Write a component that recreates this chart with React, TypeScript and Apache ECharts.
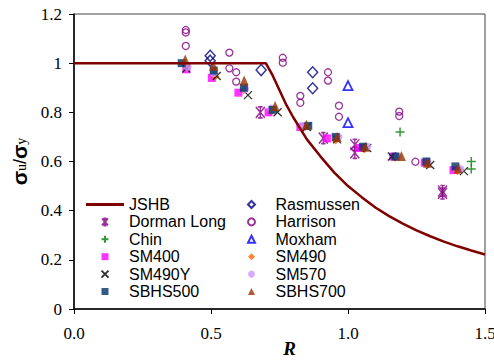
import React, { useEffect, useRef } from "react";
import * as echarts from "echarts";

// ---- data ----
const xTicks = [0, 0.5, 1.0, 1.5];
const yTicks = [0, 0.2, 0.4, 0.6, 0.8, 1, 1.2];

const jshbR = [0, 0.7, 0.725, 0.75, 0.775, 0.8, 0.85, 0.9, 0.95, 1.0, 1.05, 1.1, 1.15, 1.2, 1.25, 1.3, 1.35, 1.4, 1.45, 1.5];
const jshbS = [1, 1, 0.95, 0.89, 0.83, 0.78, 0.69, 0.62, 0.555, 0.5, 0.455, 0.413, 0.378, 0.347, 0.32, 0.296, 0.274, 0.255, 0.238, 0.222];

const dormanR = [0.68, 0.91, 1.025, 1.025, 1.345, 1.345];
const dormanS = [0.8, 0.695, 0.668, 0.635, 0.48, 0.47];

const chinR = [1.19, 1.45, 1.45];
const chinS = [0.72, 0.6, 0.57];

const sm400R = [0.41, 0.503, 0.6, 0.71, 0.826, 0.923, 1.04, 1.165, 1.28, 1.385];
const sm400S = [0.975, 0.94, 0.88, 0.8, 0.74, 0.694, 0.655, 0.62, 0.595, 0.565];

const sm490yR = [0.41, 0.521, 0.635, 0.743, 0.85, 0.96, 1.07, 1.16, 1.3, 1.423];
const sm490yS = [0.978, 0.948, 0.87, 0.8, 0.74, 0.69, 0.655, 0.62, 0.586, 0.561];

const sbhs500R = [0.393, 0.51, 0.62, 0.725, 0.855, 0.955, 1.055, 1.173, 1.286, 1.392];
const sbhs500S = [1.0, 0.97, 0.9, 0.81, 0.745, 0.7, 0.66, 0.62, 0.6, 0.58];

const rasR = [0.497, 0.497, 0.683, 0.871, 0.871];
const rasS = [1.03, 1.01, 0.972, 0.963, 0.898];

const harR = [0.408, 0.408, 0.408, 0.567, 0.567, 0.592, 0.592, 0.762, 0.762, 0.826, 0.826, 0.927, 0.927, 0.967, 0.967, 1.187, 1.187, 1.246];
const harS = [1.135, 1.125, 1.07, 1.043, 0.979, 0.963, 0.925, 1.022, 1.002, 0.867, 0.839, 0.963, 0.929, 0.827, 0.782, 0.803, 0.785, 0.599];

const moxR = [1.0, 1.0];
const moxS = [0.909, 0.758];

const sm490R = [0.41, 0.515, 0.62, 0.72, 0.845, 0.955, 1.06, 1.17, 1.29, 1.4];
const sm490S = [0.985, 0.945, 0.89, 0.805, 0.74, 0.685, 0.65, 0.615, 0.59, 0.56];

const sm570R = [0.415, 0.51, 0.625, 0.72, 0.83, 0.965, 1.07, 1.18, 1.29, 1.41];
const sm570S = [0.985, 0.96, 0.895, 0.815, 0.745, 0.7, 0.66, 0.62, 0.6, 0.57];

const sbhs700R = [0.406, 0.509, 0.621, 0.734, 0.848, 0.96, 1.063, 1.195, 1.29, 1.402];
const sbhs700S = [1.015, 0.99, 0.93, 0.826, 0.75, 0.7, 0.66, 0.622, 0.595, 0.572];

const legendCol1 = ["JSHB", "Dorman Long", "Chin", "SM400", "SM490Y", "SBHS500"];
const legendCol2 = ["Rasmussen", "Harrison", "Moxham", "SM490", "SM570", "SBHS700"];

const zip = (a: number[], b: number[]) => a.map((v, i) => [v, b[i]]);

const ASTERISK = "path://M0,0L10,12M0,12L10,0M5,0L5,12M2.5,0L7.5,0M2.5,12L7.5,12";
const PLUS = "path://M5,0L5,10M0,5L10,5";
const CROSS = "path://M0,0L10,10M0,10L10,0";
const SQUARE = "path://M0,0L10,0L10,10L0,10Z";
const DIAMOND = "path://M5,0L10,5L5,10L0,5Z";
const TRIANGLE = "path://M5,0L10,10L0,10Z";
const LINEICON = "path://M0,0L40,0L40,3L0,3Z";

const SERIF = "'Liberation Serif', 'Times New Roman', 'DejaVu Serif', serif";
const SANS = "'Liberation Sans', Arial, sans-serif";

function scatter(name: string, R: number[], S: number[], symbol: string, size: number | number[], itemStyle: any) {
  return {
    name,
    type: "scatter",
    data: zip(R, S),
    symbol,
    symbolSize: size,
    symbolKeepAspect: false,
    itemStyle,
    emphasis: { disabled: true },
  };
}

function legendData(names: string[]) {
  return names.map((n) => (n === "JSHB" ? { name: n, icon: LINEICON } : { name: n }));
}

function legendCfg(names: string[], left: number) {
  return {
    data: legendData(names),
    orient: "vertical",
    left,
    top: 196,
    padding: 0,
    itemWidth: 38,
    itemHeight: 7,
    itemGap: 0.4,
    symbolKeepAspect: true,
    selectedMode: false,
    textStyle: { fontFamily: SANS, fontSize: 16, color: "#000", lineHeight: 17 },
  };
}

export default function App() {
  const ref = useRef<HTMLDivElement>(null);
  useEffect(() => {
    const chart = echarts.init(ref.current!, null, { renderer: "svg" });
    const option: any = {
      animation: false,
      backgroundColor: "#fff",
      grid: {
        left: 74,
        right: 9,
        top: 14,
        bottom: 52,
        show: true,
        borderColor: "#444",
        borderWidth: 1,
        backgroundColor: "transparent",
        containLabel: false,
        outerBoundsMode: "none",
      },
      xAxis: {
        type: "value",
        min: xTicks[0],
        max: xTicks[xTicks.length - 1],
        interval: 0.5,
        splitLine: { show: false },
        axisLine: { show: true, onZero: false, lineStyle: { color: "#000", width: 1.5 } },
        axisTick: { show: true, inside: false, length: 5, lineStyle: { color: "#000" } },
        axisLabel: {
          margin: 16,
          fontFamily: SERIF,
          fontSize: 17,
          color: "#000",
          formatter: (v: number) => v.toFixed(1),
        },
        name: "R",
        nameLocation: "middle",
        nameGap: 30,
        nameMoveOverlap: false,
        nameTextStyle: {
          fontFamily: SERIF,
          fontWeight: "bold",
          fontStyle: "italic",
          fontSize: 19,
          color: "#000",
          padding: [0, 0, 0, 20],
        },
      },
      yAxis: {
        type: "value",
        min: yTicks[0],
        max: yTicks[yTicks.length - 1],
        interval: 0.2,
        splitLine: { show: false },
        axisLine: { show: true, onZero: false, lineStyle: { color: "#000", width: 1.5 } },
        axisTick: { show: true, inside: false, length: 5, lineStyle: { color: "#000" } },
        axisLabel: {
          margin: 12,
          fontFamily: SERIF,
          fontSize: 17,
          color: "#000",
          formatter: (v: number) => String(Math.round(v * 10) / 10),
        },
        name: "{a|σ}{b|u}{c|/}{a|σ}{b|y}",
        nameLocation: "middle",
        nameRotate: 90,
        nameGap: 44,
        nameMoveOverlap: false,
        nameTextStyle: {
          rich: {
            a: { fontFamily: SANS, fontWeight: "bold", fontSize: 21, color: "#000" },
            b: { fontFamily: SERIF, fontSize: 14, color: "#000", padding: [4, 0, 0, 0] },
            c: { fontFamily: SANS, fontSize: 18, color: "#000" },
          },
        },
      },
      legend: [legendCfg(legendCol1, 86), legendCfg(legendCol2, 247)],
      series: [
        {
          name: "JSHB",
          type: "line",
          data: zip(jshbR, jshbS),
          symbol: "none",
          showSymbol: false,
          lineStyle: { color: "#800000", width: 2.5 },
          itemStyle: { color: "#800000" },
          emphasis: { disabled: true },
        },
        scatter("Rasmussen", rasR, rasS, DIAMOND, [10, 11], { color: "transparent", borderColor: "#000080", borderWidth: 1.5 }),
        scatter("Dorman Long", dormanR, dormanS, ASTERISK, [9, 11], { color: "#800080", borderColor: "#800080", borderWidth: 1.5 }),
        scatter("Harrison", harR, harS, "circle", 7, { color: "transparent", borderColor: "#800080", borderWidth: 1.3 }),
        scatter("Chin", chinR, chinS, PLUS, 9, { color: "#008000", borderColor: "#008000", borderWidth: 1.5 }),
        scatter("Moxham", moxR, moxS, TRIANGLE, [9, 9], { color: "transparent", borderColor: "#0000FF", borderWidth: 1.8 }),
        scatter("SM400", sm400R, sm400S, SQUARE, 8, { color: "#FF00FF" }),
        scatter("SM490", sm490R, sm490S, DIAMOND, 8, { color: "#FF6600" }),
        scatter("SM490Y", sm490yR, sm490yS, CROSS, 8, { color: "#000", borderColor: "#000", borderWidth: 1.3 }),
        scatter("SM570", sm570R, sm570S, "circle", 8, { color: "#CC99FF" }),
        scatter("SBHS500", sbhs500R, sbhs500S, SQUARE, 8, { color: "#003366" }),
        scatter("SBHS700", sbhs700R, sbhs700S, TRIANGLE, [9, 10], { color: "#993300" }),
      ],
    };
    chart.setOption(option);
    return () => chart.dispose();
  }, []);
  return <div ref={ref} style={{ position: "fixed", left: 0, top: 0, width: 494, height: 361 }} />;
}
